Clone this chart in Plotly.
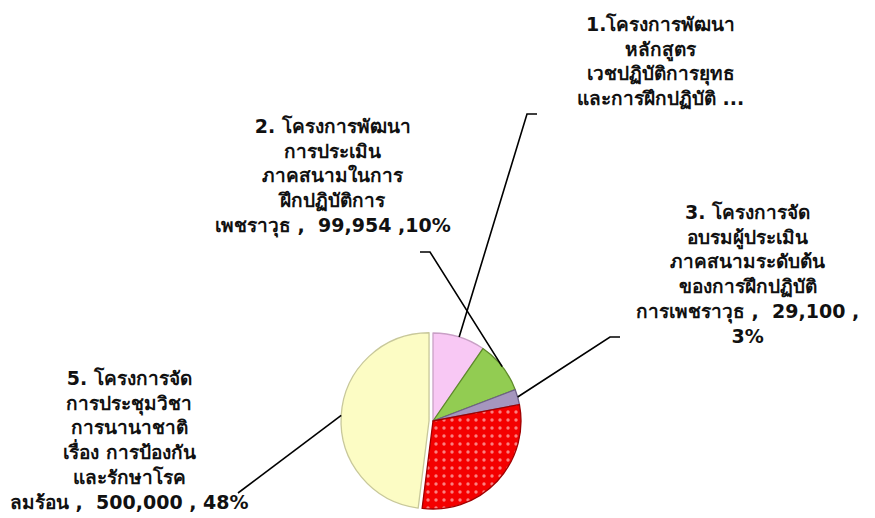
import math
import plotly.graph_objects as go

# ---------------- data ----------------
slice_ids = ["1", "2", "3", "4", "5"]
values = [100000, 99954, 29100, 312000, 500000]
label_templates = [
    "1.โครงการพัฒนา<br>หลักสูตร<br>เวชปฏิบัติการยุทธ<br>และการฝึกปฏิบัติ ...",
    "2. โครงการพัฒนา<br>การประเมิน<br>ภาคสนามในการ<br>ฝึกปฏิบัติการ<br>เพชราวุธ ,  {v} ,{p}%",
    "3. โครงการจัด<br>อบรมผู้ประเมิน<br>ภาคสนามระดับต้น<br>ของการฝึกปฏิบัติ<br>การเพชราวุธ ,  {v} ,<br>{p}%",
    None,
    "5. โครงการจัด<br>การประชุมวิชา<br>การนานาชาติ<br>เรื่อง การป้องกัน<br>และรักษาโรค<br>ลมร้อน ,  {v} , {p}%",
]
colors = ["#F8C8F4", "#92CC52", "#A596BE", "#F40000", "#FCFCC4"]
edge_colors = ["#C9A0C6", "#5E8A2A", "#6E6088", "#A00000", "#C8C89A"]
pulls = [0, 0, 0, 0, 0.045]

# ---------------- layout constants (pixels) ----------------
W, H = 875, 518
CX, CY, R = 433, 421, 88
# label text centres and leader-line elbow points
label_pos = [(660, 62), (333, 176), (747, 274), None, (129, 440)]
elbows = [[(537, 114), (527, 114)], [(420, 252), (430, 252)],
          [(620, 337), (610, 337)], None, [(238, 493), (238, 493)]]

def px(x):
    return x / W

def py(y):
    return 1 - y / H

total = sum(values)
half = R * (1 + max(pulls))

fig = go.Figure(go.Pie(
    labels=slice_ids,
    values=values,
    sort=False,
    direction="clockwise",
    rotation=0,
    pull=pulls,
    textinfo="none",
    hoverinfo="label+value+percent",
    showlegend=False,
    marker=dict(
        colors=colors,
        line=dict(color=edge_colors, width=1.3),
        pattern=dict(shape=["", "", "", ".", ""], fgcolor="white",
                     size=8, solidity=0.14, fillmode="overlay"),
    ),
    domain=dict(x=[px(CX - half), px(CX + half)], y=[py(CY + half), py(CY - half)]),
))

shapes = []
annotations = []
cum = 0
for i, v in enumerate(values):
    mid = (cum + v / 2) / total * 2 * math.pi
    cum += v
    if label_templates[i] is None:
        continue
    r = R * (1 + pulls[i])
    ex = CX + r * math.sin(mid)
    ey = CY - r * math.cos(mid)
    pts = [(ex, ey)] + elbows[i][::-1]
    path = "M {} {}".format(px(pts[0][0]), py(pts[0][1]))
    for (x, y) in pts[1:]:
        path += " L {} {}".format(px(x), py(y))
    shapes.append(dict(type="path", xref="paper", yref="paper", path=path,
                       line=dict(color="black", width=1.6)))
    pct = round(v / total * 100)
    text = label_templates[i].format(v=f"{v:,}", p=pct)
    lx, ly = label_pos[i]
    annotations.append(dict(x=px(lx), y=py(ly), xref="paper", yref="paper",
                            text="<b>" + text + "</b>", showarrow=False,
                            xanchor="center", yanchor="middle", align="center",
                            font=dict(size=19, color="#111111",
                                      family="'DejaVu Sans', sans-serif")))

fig.update_layout(
    width=W, height=H,
    margin=dict(l=0, r=0, t=0, b=0),
    paper_bgcolor="white",
    plot_bgcolor="white",
    shapes=shapes,
    annotations=annotations,
)

fig.write_html("out.html", config={"displayModeBar": False},
               post_script="document.body.style.margin='0';")
